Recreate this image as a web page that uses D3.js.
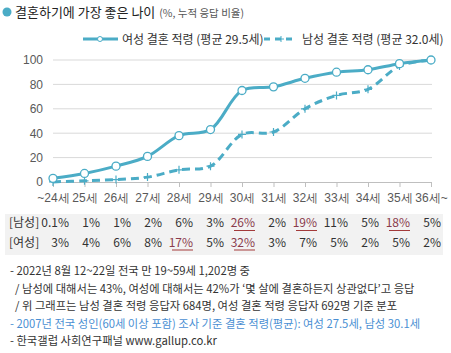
<!DOCTYPE html>
<html>
<head>
<meta charset="utf-8">
<script src="https://cdn.jsdelivr.net/npm/d3@7"></script>
<style>
  body { margin: 0; background: #fff; }
  svg { display: block; font-family: "Noto Sans CJK KR", "Noto Sans", sans-serif; }
</style>
</head>
<body>
<svg width="451" height="353"></svg>
<script>
// 연령 구간
const ages = ["~24세", "25세", "26세", "27세", "28세", "29세", "30세", "31세", "32세", "33세", "34세", "35세", "36세~"];
// 누적 응답 비율 (그래프)
const femaleCum = [3, 7, 13, 21, 38, 43, 75, 78, 85, 90, 92, 97, 100];
const maleCum = [0.1, 1, 2, 4, 10, 13, 39, 41, 60, 71, 76, 95, 100];
// 연령별 응답 비율 (표)
const maleShare = ["0.1%", "1%", "1%", "2%", "6%", "3%", "26%", "2%", "19%", "11%", "5%", "18%", "5%"];
const femaleShare = ["3%", "4%", "6%", "8%", "17%", "5%", "32%", "3%", "7%", "5%", "2%", "5%", "2%"];
// 강조(밑줄) 표시
const maleHighlight = ["30세", "32세", "35세"];
const femaleHighlight = ["28세", "30세"];
const yTicks = [0, 20, 40, 60, 80, 100];
const notes = [
  "- 2022년 8월 12~22일 전국 만 19~59세 1,202명 중",
  "  / 남성에 대해서는 43%, 여성에 대해서는 42%가 ‘몇 살에 결혼하든지 상관없다’고 응답",
  "  / 위 그래프는 남성 결혼 적령 응답자 684명, 여성 결혼 적령 응답자 692명 기준 분포",
  "- 2007년 전국 성인(60세 이상 포함) 조사 기준 결혼 적령(평균): 여성 27.5세, 남성 30.1세",
  "- 한국갤럽 사회연구패널 www.gallup.co.kr"
];

const teal = "#4bacc6";
const svg = d3.select("svg");

// 제목
svg.append("circle").attr("cx", 7).attr("cy", 12).attr("r", 4.5).attr("fill", teal);
const title = svg.append("text").attr("x", 15).attr("y", 17);
title.append("tspan").style("font-size", "13px").attr("fill", "#222").text("결혼하기에 가장 좋은 나이");
title.append("tspan").style("font-size", "10.5px").attr("fill", "#555").attr("dx", 4).text("(%, 누적 응답 비율)");

// 스케일
const x = d3.scalePoint().domain(ages).range([53, 431]);
const y = d3.scaleLinear().domain([0, 100]).range([182, 60]);

// 격자선
svg.append("g")
  .selectAll("line")
  .data(yTicks.filter(d => d > 0))
  .enter().append("line")
  .attr("x1", 53).attr("x2", 432)
  .attr("y1", d => y(d)).attr("y2", d => y(d))
  .attr("stroke", "#d9d9d9");

// Y축
const yAxis = svg.append("g")
  .attr("transform", "translate(53,0)")
  .call(d3.axisLeft(y).tickValues(yTicks).tickSize(0).tickPadding(10));
yAxis.select(".domain").remove();
yAxis.selectAll("text").style("font-size", "12px").attr("fill", "#595959").style("font-family", "inherit");

// X축
const xAxis = svg.append("g")
  .attr("transform", `translate(0,${y(0)})`)
  .call(d3.axisBottom(x).tickSize(5).tickPadding(6).tickSizeOuter(0));
xAxis.select(".domain").attr("stroke", "#bfbfbf").attr("d", "M53,0.5H432");
xAxis.selectAll("line").attr("stroke", "#bfbfbf");
xAxis.selectAll("text").style("font-size", "12px").attr("fill", "#595959").style("font-family", "inherit");

// 선
const line = d3.line()
  .x((d, i) => x(ages[i]))
  .y(d => y(d))
  .curve(d3.curveCatmullRom);

svg.append("path")
  .datum(maleCum)
  .attr("d", line)
  .attr("fill", "none")
  .attr("stroke", teal)
  .attr("stroke-width", 3)
  .attr("stroke-dasharray", "8,5");

svg.append("path")
  .datum(femaleCum)
  .attr("d", line)
  .attr("fill", "none")
  .attr("stroke", teal)
  .attr("stroke-width", 3);

// 남성 표식 (+)
svg.append("g")
  .selectAll("path")
  .data(maleCum)
  .enter().append("path")
  .attr("d", "M-4,0H4M0,-4V4")
  .attr("transform", (d, i) => `translate(${x(ages[i])},${y(d)})`)
  .attr("stroke", teal)
  .attr("stroke-width", 1.2);

// 여성 표식 (o)
svg.append("g")
  .selectAll("circle")
  .data(femaleCum)
  .enter().append("circle")
  .attr("cx", (d, i) => x(ages[i]))
  .attr("cy", d => y(d))
  .attr("r", 4)
  .attr("fill", "#fff")
  .attr("stroke", teal)
  .attr("stroke-width", 1.3);

// 범례
const legend = svg.append("g").style("font-size", "12px").attr("fill", "#333");
legend.append("line").attr("x1", 83).attr("x2", 118).attr("y1", 39).attr("y2", 39)
  .attr("stroke", teal).attr("stroke-width", 3);
legend.append("circle").attr("cx", 100).attr("cy", 39).attr("r", 2.5)
  .attr("fill", "#fff").attr("stroke", teal).attr("stroke-width", 1);
legend.append("text").attr("x", 122).attr("y", 43.5).text("여성 결혼 적령 (평균 29.5세)");
legend.append("line").attr("x1", 264).attr("x2", 296).attr("y1", 39).attr("y2", 39)
  .attr("stroke", teal).attr("stroke-width", 3).attr("stroke-dasharray", "6,5");
legend.append("path").attr("d", "M-3,0H3M0,-3V3").attr("transform", "translate(281,39)")
  .attr("stroke", teal).attr("stroke-width", 1);
legend.append("text").attr("x", 302).attr("y", 43.5).text("남성 결혼 적령 (평균 32.0세)");

// 표
svg.append("rect").attr("x", 5).attr("y", 214).attr("width", 438).attr("height", 41).attr("fill", "#f2f2f2");
const col = d3.scalePoint().domain(ages).range([69, 441]);
const rows = [
  { label: "[남성]", values: maleShare, hi: maleHighlight, y: 227 },
  { label: "[여성]", values: femaleShare, hi: femaleHighlight, y: 246.5 }
];
rows.forEach(r => {
  const g = svg.append("g").style("font-size", "12px");
  g.append("text").attr("x", 9).attr("y", r.y).attr("fill", "#333").text(r.label);
  g.selectAll(".v")
    .data(r.values)
    .enter().append("text")
    .attr("class", "v")
    .attr("x", (d, i) => col(ages[i]))
    .attr("y", r.y)
    .attr("text-anchor", "end")
    .attr("fill", (d, i) => r.hi.includes(ages[i]) ? "#8a3b4c" : "#333")
    .text(d => d);
  g.selectAll(".u")
    .data(r.values.map((d, i) => ({ d, age: ages[i] })).filter(o => r.hi.includes(o.age)))
    .enter().append("line")
    .attr("class", "u")
    .attr("x1", o => col(o.age) - o.d.length * 7)
    .attr("x2", o => col(o.age))
    .attr("y1", r.y + 3.5).attr("y2", r.y + 3.5)
    .attr("stroke", "#a33a3a").attr("stroke-width", 1);
});

// 주석
svg.append("g")
  .selectAll("text")
  .data(notes)
  .enter().append("text")
  .attr("x", 10)
  .attr("y", (d, i) => 275 + i * 17.5)
  .style("font-size", "11.3px")
  .style("white-space", "pre")
  .attr("xml:space", "preserve")
  .attr("fill", (d, i) => i === 3 ? "#4a8fd3" : "#333")
  .text(d => d);
</script>
</body>
</html>
